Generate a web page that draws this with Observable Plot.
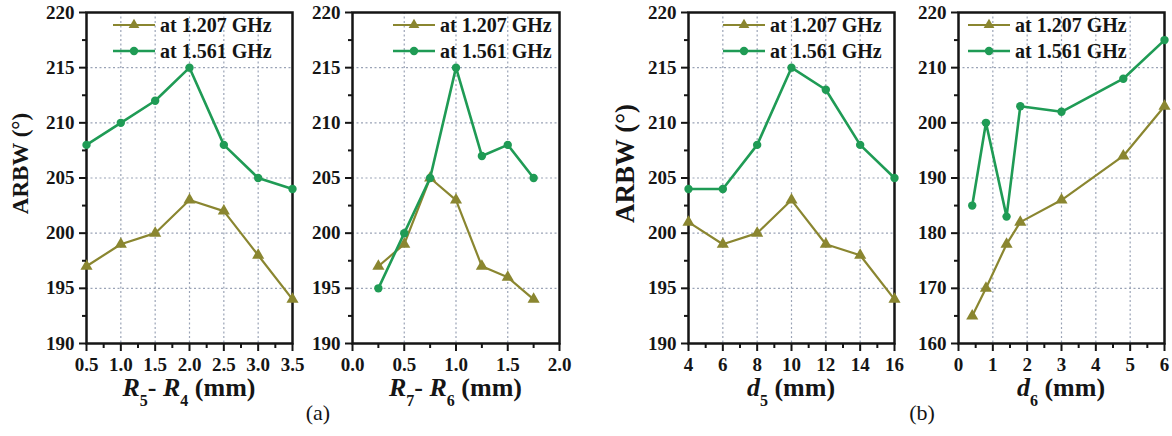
<!DOCTYPE html>
<html><head><meta charset="utf-8">
<script src="https://cdn.jsdelivr.net/npm/d3@7"></script>
<script src="https://cdn.jsdelivr.net/npm/@observablehq/plot@0.6"></script>
<style>
body{margin:0;background:#fff;}
#wrap{position:relative;width:1172px;height:436px;overflow:hidden;background:#fff;}
.panel{position:absolute;top:0;}
</style></head><body><div id="wrap"></div>
<script>
const olive = "#8a8630", green = "#1f9b55";
const seriesNames = ["at 1.207 GHz", "at 1.561 GHz"];

// Panel 1: R5 - R4
const x1 = [0.5, 1.0, 1.5, 2.0, 2.5, 3.0, 3.5];
const low1 = [197, 199, 200, 203, 202, 198, 194];
const high1 = [208, 210, 212, 215, 208, 205, 204];
// Panel 2: R7 - R6
const x2 = [0.25, 0.5, 0.75, 1.0, 1.25, 1.5, 1.75];
const low2 = [197, 199, 205, 203, 197, 196, 194];
const high2 = [195, 200, 205, 215, 207, 208, 205];
// Panel 3: d5
const x3 = [4, 6, 8, 10, 12, 14, 16];
const low3 = [201, 199, 200, 203, 199, 198, 194];
const high3 = [204, 204, 208, 215, 213, 208, 205];
// Panel 4: d6
const x4 = [0.4, 0.8, 1.4, 1.8, 3.0, 4.8, 6.0];
const low4 = [165, 170, 178, 182, 186, 194, 203];
const high4 = [185, 200, 183, 203, 202, 208, 215];

// tick values
const yTicksA = [190, 195, 200, 205, 210, 215, 220];
const yMinorA = [192.5, 197.5, 202.5, 207.5, 212.5, 217.5];
const yTicksB = [160, 170, 180, 190, 200, 210, 220];
const yMinorB = [165, 175, 185, 195, 205, 215];
const xTicks1 = [0.5, 1.0, 1.5, 2.0, 2.5, 3.0, 3.5];
const xMinor1 = [0.75, 1.25, 1.75, 2.25, 2.75, 3.25];
const xTicks2 = [0.0, 0.5, 1.0, 1.5, 2.0];
const xMinor2 = [0.25, 0.75, 1.25, 1.75];
const xTicks3 = [4, 6, 8, 10, 12, 14, 16];
const xMinor3 = [5, 7, 9, 11, 13, 15];
const xTicks4 = [0, 1, 2, 3, 4, 5, 6];
const xMinor4 = [0.5, 1.5, 2.5, 3.5, 4.5, 5.5];

const FONT = "'Liberation Serif', 'Times New Roman', serif";
const INK = "#151515";

const panels = [
  {left: 0, width: 300, mL: 86, mR: 8, x: x1, low: low1, high: high1, xTicks: xTicks1, xMinor: xMinor1, xDomain: [0.5, 3.5], yTicks: yTicksA, yMinor: yMinorA, yDomain: [190, 220], fmt: d3.format(".1f"), legendX: 113, xlabel: [["R", "i"], ["5", "s"], ["- ", "r"], ["R", "i"], ["4", "s"], [" (mm)", "r"]], ylabel: {x: 28, size: 23}},
  {left: 300, width: 280, mL: 52, mR: 21, x: x2, low: low2, high: high2, xTicks: xTicks2, xMinor: xMinor2, xDomain: [0, 2], yTicks: yTicksA, yMinor: yMinorA, yDomain: [190, 220], fmt: d3.format(".1f"), legendX: 93, xlabel: [["R", "i"], ["7", "s"], ["- ", "r"], ["R", "i"], ["6", "s"], [" (mm)", "r"]], tag: {text: "(a)", x: 18}},
  {left: 590, width: 310, mL: 98, mR: 6, x: x3, low: low3, high: high3, xTicks: xTicks3, xMinor: xMinor3, xDomain: [4, 16], yTicks: yTicksA, yMinor: yMinorA, yDomain: [190, 220], fmt: d3.format("d"), legendX: 133, xlabel: [["d", "i"], ["5", "s"], [" (mm)", "r"]], ylabel: {x: 44, size: 27}},
  {left: 900, width: 272, mL: 58, mR: 8, x: x4, low: low4, high: high4, xTicks: xTicks4, xMinor: xMinor4, xDomain: [0, 6], yTicks: yTicksB, yMinor: yMinorB, yDomain: [160, 220], fmt: d3.format("d"), legendX: 68, xlabel: [["d", "i"], ["6", "s"], [" (mm)", "r"]], tag: {text: "(b)", x: 22}}
];

const wrap = document.getElementById("wrap");
const H = 436, MT = 12, MB = 93;

for (const p of panels) {
  const low = p.x.map((x, i) => ({x, y: p.low[i]}));
  const high = p.x.map((x, i) => ({x, y: p.high[i]}));
  const xi = p.xTicks.filter(t => t > p.xDomain[0] && t < p.xDomain[1]);
  const yi = p.yTicks.filter(t => t > p.yDomain[0] && t < p.yDomain[1]);
  const svg = Plot.plot({
    width: p.width, height: H,
    marginLeft: p.mL, marginRight: p.mR, marginTop: MT, marginBottom: MB,
    style: {fontFamily: FONT, fontSize: "19px", fontWeight: "bold", background: "transparent", overflow: "visible", color: INK},
    x: {domain: p.xDomain},
    y: {domain: p.yDomain},
    marks: [
      Plot.gridX(xi, {stroke: "#9aa3b6", strokeOpacity: 1, strokeWidth: 1.2, strokeDasharray: "2,2.5"}),
      Plot.gridY(yi, {stroke: "#9aa3b6", strokeOpacity: 1, strokeWidth: 1.2, strokeDasharray: "2,2.5"}),
      Plot.frame({stroke: INK, strokeWidth: 2.5}),
      Plot.line(low, {x: "x", y: "y", stroke: olive, strokeWidth: 2.2}),
      Plot.dot(low, {x: "x", y: "y", symbol: "triangle", fill: olive, r: 4.5}),
      Plot.line(high, {x: "x", y: "y", stroke: green, strokeWidth: 2.6}),
      Plot.dot(high, {x: "x", y: "y", symbol: "circle", fill: green, r: 4.2}),
      Plot.axisX(p.xTicks, {tickSize: 8, tickPadding: 6, tickFormat: p.fmt, label: null, strokeWidth: 2, stroke: INK}),
      Plot.axisX(p.xMinor, {tickSize: 5, tickFormat: () => "", label: null, strokeWidth: 2, stroke: INK}),
      Plot.axisY(p.yTicks, {tickSize: 7, tickPadding: 5, label: null, strokeWidth: 2, stroke: INK}),
      Plot.axisY(p.yMinor, {tickSize: 4, tickFormat: () => "", label: null, strokeWidth: 2, stroke: INK})
    ]
  });
  svg.classList.add("panel");
  svg.style.left = p.left + "px";
  const s = d3.select(svg);

  // legend
  const lg = s.append("g");
  [0, 1].forEach(i => {
    const y = 25 + i * 26, col = i === 0 ? olive : green;
    lg.append("line").attr("x1", p.legendX).attr("x2", p.legendX + 42).attr("y1", y).attr("y2", y)
      .attr("stroke", col).attr("stroke-width", i === 0 ? 2.2 : 2.6);
    if (i === 0) {
      lg.append("path").attr("d", d3.symbol(d3.symbolTriangle, 50)()).attr("transform", `translate(${p.legendX + 21},${y})`).attr("fill", col);
    } else {
      lg.append("circle").attr("cx", p.legendX + 21).attr("cy", y).attr("r", 4.2).attr("fill", col);
    }
    lg.append("text").attr("x", p.legendX + 47).attr("y", y).attr("dy", "0.35em")
      .attr("text-anchor", "start").attr("fill", INK)
      .style("font-family", FONT).style("font-weight", "bold").style("font-size", "20px")
      .text(seriesNames[i]);
  });

  // x label with italic symbol and subscripts
  const cx = p.mL + (p.width - p.mL - p.mR) / 2;
  const t = s.append("text").attr("x", cx).attr("y", 396).attr("text-anchor", "middle")
    .attr("fill", INK).style("font-family", FONT).style("font-weight", "bold").style("font-size", "26px");
  let prevSub = false;
  for (const [str, kind] of p.xlabel) {
    const ts = t.append("tspan").text(str);
    if (kind === "i") ts.style("font-style", "italic");
    if (kind === "s") { ts.style("font-size", "16px").attr("dy", 10); prevSub = true; continue; }
    if (prevSub) { ts.attr("dy", -10); prevSub = false; }
  }

  // y label
  if (p.ylabel) {
    const cy = MT + (H - MT - MB) / 2 - 14;
    s.append("text").attr("transform", `translate(${p.ylabel.x},${cy}) rotate(-90)`)
      .attr("text-anchor", "middle").attr("fill", INK)
      .style("font-family", FONT).style("font-weight", "bold").style("font-size", p.ylabel.size + "px")
      .text("ARBW (°)");
  }

  // panel tag
  if (p.tag) {
    s.append("text").attr("x", p.tag.x).attr("y", 420).attr("text-anchor", "middle")
      .attr("fill", INK).style("font-family", FONT).style("font-weight", "normal").style("font-size", "22px")
      .text(p.tag.text);
  }
  wrap.appendChild(svg);
}
</script>
</body></html>
